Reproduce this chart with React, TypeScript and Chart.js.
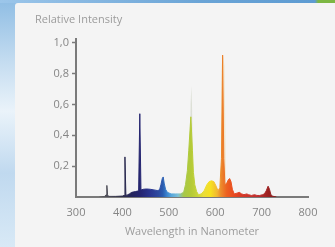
import React, { useEffect, useRef } from 'react';
import { Chart, registerables } from 'chart.js';

Chart.register(...registerables);

// Spectrum (wavelength in nm, relative intensity)
const wavelengths = [
  350, 362, 365, 366.5, 368, 370, 385, 400, 403.5, 405.5, 407.5, 410, 415, 420, 428, 435, 437.5, 440,
  445, 452, 460, 468, 475, 480, 483, 486, 488, 490, 493, 497, 505, 515, 525, 532, 536, 540,
  543, 547.5, 551, 553, 556, 560, 564, 570, 576, 582, 587, 592, 597, 602, 606, 610, 613.5,
  616, 618.5, 621, 625, 628, 631, 634, 637, 641, 647, 652, 657, 662, 668, 672, 678, 685,
  690, 696, 702, 706, 710, 714, 717, 720, 724, 732,
];
const intensities = [
  0, 0.004, 0.015, 0.075, 0.015, 0.004, 0.004, 0.006, 0.01, 0.26, 0.012, 0.012, 0.02, 0.03, 0.035, 0.04, 0.54, 0.045,
  0.05, 0.052, 0.05, 0.046, 0.042, 0.045, 0.08, 0.12, 0.13, 0.09, 0.05, 0.03, 0.02, 0.02, 0.02, 0.03, 0.08, 0.17,
  0.3, 0.52, 0.3, 0.16, 0.08, 0.035, 0.015, 0.02, 0.04, 0.08, 0.1, 0.105, 0.1, 0.07, 0.04, 0.06, 0.25,
  0.92, 0.25, 0.08, 0.09, 0.11, 0.12, 0.1, 0.05, 0.02, 0.025, 0.03, 0.02, 0.015, 0.02, 0.015, 0.01, 0.015,
  0.01, 0.01, 0.015, 0.02, 0.04, 0.07, 0.05, 0.015, 0.005, 0,
];

// faint glow above the two tallest lines
const glowWavelengths = [544, 547, 548.5, 550, 553, 612, 614, 616, 618, 620, 624];
const glowIntensities = [0, 0.6, 0.72, 0.6, 0, 0, 0.85, 0.92, 0.9, 0.85, 0];

const xTickValues = [300, 400, 500, 600, 700, 800];
const yTickValues = [0.2, 0.4, 0.6, 0.8, 1.0];
const yTickLabels = ['0,2', '0,4', '0,6', '0,8', '1,0'];
const xTitle = 'Wavelength in Nanometer';
const yTitle = 'Relative Intensity';

// wavelength -> colour of the spectrum fill
const colorWavelengths = [350, 368, 400, 420, 440, 460, 478, 487, 495, 505, 520, 532, 548, 562, 575, 590, 604, 612, 625, 640, 660, 690, 715, 732];
const colorValues = [
  '#666666', '#4a4a55', '#2c2c4a', '#24245c', '#252572', '#2a3590', '#2d4aa0', '#2a5cb0', '#3a80cc', '#55a5dc',
  '#7cc0d8', '#a6c84a', '#b4ca36', '#c8d43a', '#eadd3a', '#f6e020', '#f2b830', '#ec8c2c', '#ec6020', '#e84a20',
  '#d43828', '#c03030', '#9a2020', '#802020',
];

const FONT = "'Open Sans', 'DejaVu Sans', sans-serif";

function spectrumGradient(ctx: any) {
  const chart = ctx.chart;
  const { chartArea, scales } = chart;
  if (!chartArea || !scales.x) return '#333';
  const x = scales.x;
  const x0 = x.getPixelForValue(300);
  const x1 = x.getPixelForValue(800);
  const g = chart.ctx.createLinearGradient(x0, 0, x1, 0);
  colorWavelengths.forEach((w, i) => g.addColorStop((w - 300) / 500, colorValues[i]));
  return g;
}

function glowGradient(ctx: any) {
  const chart = ctx.chart;
  const { chartArea, scales } = chart;
  if (!chartArea || !scales.x) return 'rgba(230,230,220,0.6)';
  const x = scales.x;
  const x0 = x.getPixelForValue(300);
  const x1 = x.getPixelForValue(800);
  const g = chart.ctx.createLinearGradient(x0, 0, x1, 0);
  g.addColorStop((540 - 300) / 500, 'rgba(214,218,206,0.8)');
  g.addColorStop((560 - 300) / 500, 'rgba(214,218,206,0.8)');
  g.addColorStop((605 - 300) / 500, 'rgba(240,228,196,0.8)');
  g.addColorStop((630 - 300) / 500, 'rgba(240,228,196,0.8)');
  return g;
}

export default function App() {
  const canvasRef = useRef<HTMLCanvasElement | null>(null);

  useEffect(() => {
    if (!canvasRef.current) return;
    const data = wavelengths.map((w, i) => ({ x: w, y: intensities[i] }));
    const glow = glowWavelengths.map((w, i) => ({ x: w, y: glowIntensities[i] }));
    const chart = new Chart(canvasRef.current, {
      type: 'line',
      data: {
        datasets: [
          {
            data,
            fill: 'origin',
            backgroundColor: spectrumGradient,
            borderColor: spectrumGradient,
            borderWidth: 1,
            pointRadius: 0,
            tension: 0,
            order: 1,
          },
          {
            data: glow,
            fill: 'origin',
            backgroundColor: glowGradient,
            borderColor: 'rgba(0,0,0,0)',
            borderWidth: 0,
            pointRadius: 0,
            tension: 0,
            order: 2,
          },
        ],
      },
      options: {
        animation: false,
        responsive: false,
        events: [],
        layout: { padding: { left: 35, right: 27, top: 0, bottom: 0 } },
        plugins: {
          legend: { display: false },
          tooltip: { enabled: false },
          title: {
            display: true,
            text: yTitle,
            align: 'start',
            color: '#9c9c9c',
            font: { family: FONT, size: 11, weight: 'normal' },
            padding: { top: 13, bottom: 13 },
          },
        },
        scales: {
          x: {
            type: 'linear',
            min: 300,
            max: 800,
            afterBuildTicks: (s: any) => {
              s.ticks = xTickValues.map((v) => ({ value: v }));
            },
            afterFit: (s: any) => {
              s.height = 50;
            },
            grid: { display: false },
            border: { display: true, color: '#7a7a7a', width: 2 },
            ticks: {
              color: '#858585',
              font: { family: FONT, size: 11 },
              padding: 1,
              maxRotation: 0,
              callback: (v: any) => String(v),
            },
            title: {
              display: true,
              text: xTitle,
              color: '#9c9c9c',
              font: { family: FONT, size: 11 },
              padding: { top: 0, bottom: 9 },
            },
          },
          y: {
            type: 'linear',
            min: 0,
            max: 1.023,
            afterBuildTicks: (s: any) => {
              s.ticks = yTickValues.map((v) => ({ value: v }));
            },
            afterFit: (s: any) => {
              s.width = 41;
            },
            grid: {
              display: true,
              drawOnChartArea: false,
              drawTicks: true,
              tickLength: 4,
              tickColor: '#7a7a7a',
              tickWidth: 1.5,
            },
            border: { display: true, color: '#7a7a7a', width: 2 },
            ticks: {
              color: '#858585',
              font: { family: FONT, size: 11 },
              padding: 3,
              callback: (v: any) => {
                const i = yTickValues.findIndex((t) => Math.abs(t - v) < 1e-6);
                return i >= 0 ? yTickLabels[i] : '';
              },
            },
          },
        },
      },
    });
    return () => chart.destroy();
  }, []);

  return (
    <div
      style={{
        position: 'fixed',
        left: 0,
        top: 0,
        width: 335,
        height: 247,
        overflow: 'hidden',
        background:
          'linear-gradient(180deg, #8fbde4 0%, #c4dcf0 25%, #eaf3fa 45%, #c0d9ef 70%, #d8e9f6 100%)',
      }}
    >
      <div
        style={{
          position: 'absolute',
          left: 0,
          top: 0,
          width: 335,
          height: 3,
          background: 'linear-gradient(90deg, #9cc6ea 0%, #6aa4d6 60%, #5d9bd2 94%, #7db743 95%, #7db743 100%)',
        }}
      />
      <div
        style={{
          position: 'absolute',
          left: 15,
          top: 3,
          right: 0,
          bottom: 0,
          background: '#f4f4f4',
          borderTopLeftRadius: 3,
        }}
      />
      <canvas
        ref={canvasRef}
        width={335}
        height={247}
        style={{ position: 'absolute', left: 0, top: 0, width: 335, height: 247, display: 'block' }}
      />
    </div>
  );
}
